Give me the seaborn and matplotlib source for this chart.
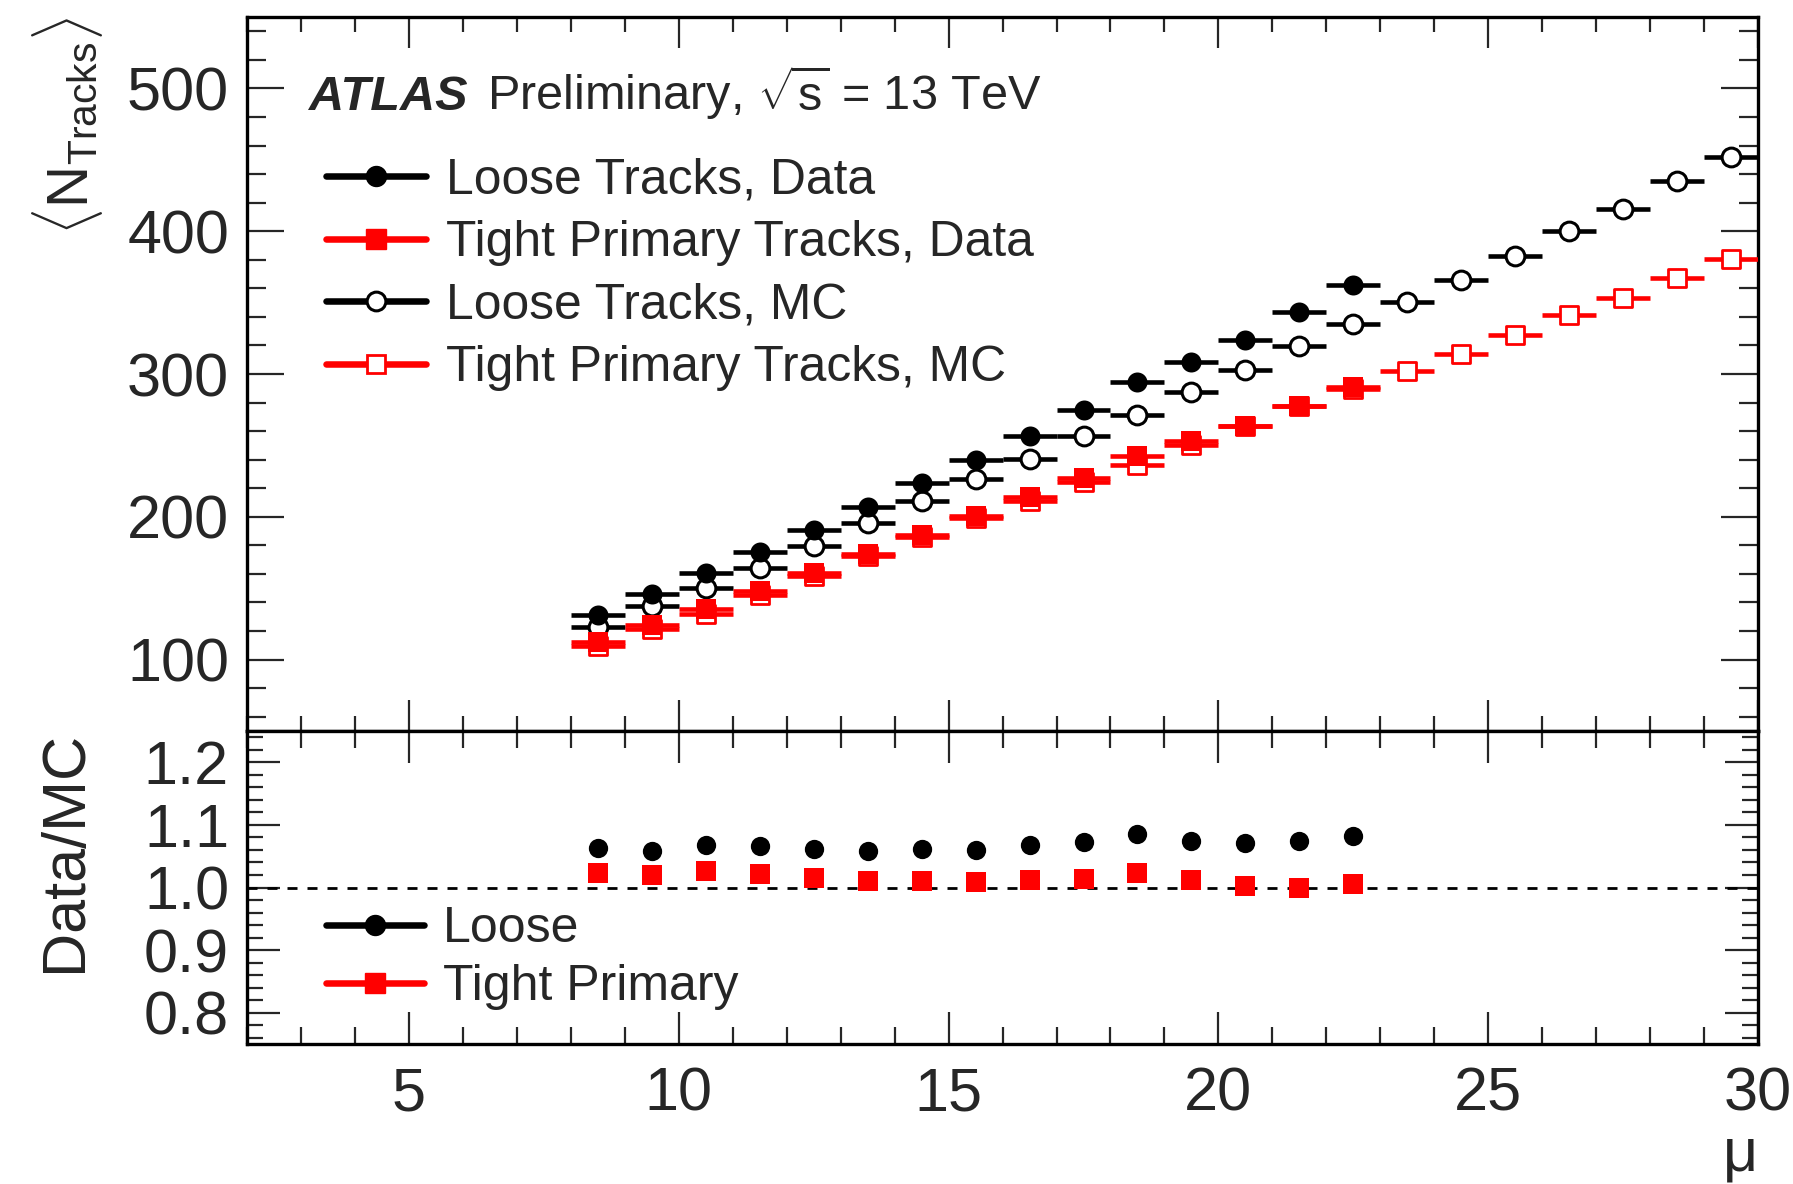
import matplotlib
matplotlib.use("Agg")
import matplotlib.pyplot as plt
from matplotlib.lines import Line2D
from matplotlib.ticker import MultipleLocator, FormatStrFormatter
import seaborn as sns

# Bin centres in average pile-up <mu>
mu_data = [8.5, 9.5, 10.5, 11.5, 12.5, 13.5, 14.5, 15.5, 16.5, 17.5, 18.5,
           19.5, 20.5, 21.5, 22.5]
mu_mc = [8.5, 9.5, 10.5, 11.5, 12.5, 13.5, 14.5, 15.5, 16.5, 17.5, 18.5,
         19.5, 20.5, 21.5, 22.5, 23.5, 24.5, 25.5, 26.5, 27.5, 28.5, 29.5]
bin_half_width = 0.5

# Mean number of tracks
loose_data = [130.9, 145.6, 160.6, 175.3, 191.1, 207.2, 223.8, 240.1, 256.9,
              274.9, 294.3, 308.7, 324.1, 343.3, 362.5]
tight_data = [112.3, 123.9, 135.6, 148.0, 160.8, 174.3, 187.6, 200.9, 213.8,
              227.1, 242.9, 253.4, 263.9, 277.5, 290.8]
loose_mc = [122.8, 137.3, 150.2, 164.5, 179.9, 195.7, 210.8, 226.3, 240.6,
            256.3, 271.2, 287.3, 302.6, 319.6, 335.2, 350.7, 365.6, 382.4,
            399.9, 415.5, 434.9, 451.7]
tight_mc = [109.7, 121.5, 132.0, 145.0, 158.4, 172.6, 185.8, 199.2, 211.2,
            224.1, 236.5, 250.5, 263.5, 277.7, 289.3, 302.4, 314.1, 327.1,
            341.2, 353.0, 367.3, 380.3]

# Data/MC ratios
ratio_loose = [1.063, 1.059, 1.068, 1.066, 1.062, 1.058, 1.062, 1.060, 1.068,
               1.072, 1.086, 1.075, 1.071, 1.074, 1.082]
ratio_tight = [1.024, 1.020, 1.027, 1.021, 1.015, 1.010, 1.010, 1.009, 1.012,
               1.013, 1.023, 1.012, 1.002, 0.999, 1.005]

x_ticklabels = ["5", "10", "15", "20", "25", "30"]

sns.set_theme(style="ticks")
plt.rcParams["font.family"] = ["Liberation Sans", "DejaVu Sans"]
plt.rcParams["mathtext.fontset"] = "custom"
plt.rcParams["mathtext.rm"] = "Liberation Sans"
plt.rcParams["mathtext.it"] = "Liberation Sans:italic"
plt.rcParams["mathtext.bf"] = "Liberation Sans:bold"

RED = "#ff0000"
BLACK = "#000000"

fig = plt.figure(figsize=(17.93, 11.84), dpi=100)
ax = fig.add_axes([0.1378, 0.3826, 0.8427, 0.6030])
ax2 = fig.add_axes([0.1378, 0.1182, 0.8427, 0.2644])

# ---- upper panel: mean number of tracks ----
bar_lw = 3.3
ax.errorbar(mu_mc, loose_mc, xerr=bin_half_width, fmt="none", ecolor=BLACK,
            elinewidth=bar_lw, capsize=0, zorder=3)
sns.scatterplot(x=mu_mc, y=loose_mc, ax=ax, marker="o", s=13.5 ** 2,
                color="white", edgecolor=BLACK, linewidth=2.2, zorder=4,
                legend=False)
ax.errorbar(mu_mc, tight_mc, xerr=bin_half_width, fmt="none", ecolor=RED,
            elinewidth=bar_lw, capsize=0, zorder=5)
sns.scatterplot(x=mu_mc, y=tight_mc, ax=ax, marker="s", s=13.0 ** 2,
                color="white", edgecolor=RED, linewidth=2.0, zorder=6,
                legend=False)
ax.errorbar(mu_data, loose_data, xerr=bin_half_width, fmt="none",
            ecolor=BLACK, elinewidth=bar_lw, capsize=0, zorder=7)
sns.scatterplot(x=mu_data, y=loose_data, ax=ax, marker="o", s=14.4 ** 2,
                color=BLACK, linewidth=0, zorder=8, legend=False)
ax.errorbar(mu_data, tight_data, xerr=bin_half_width, fmt="none",
            ecolor=RED, elinewidth=bar_lw, capsize=0, zorder=9)
sns.scatterplot(x=mu_data, y=tight_data, ax=ax, marker="s", s=14.4 ** 2,
                color=RED, linewidth=0, zorder=10, legend=False)

ax.set_xlim(2, 30)
ax.set_ylim(50, 550)
ax.xaxis.set_major_locator(MultipleLocator(5))
ax.xaxis.set_minor_locator(MultipleLocator(1))
ax.yaxis.set_major_locator(MultipleLocator(100))
ax.yaxis.set_minor_locator(MultipleLocator(20))
ax.tick_params(which="both", direction="in", top=True, right=True,
               width=1.6, labelsize=44, labelbottom=False, pad=13)
ax.tick_params(axis="x", which="major", length=22)
ax.tick_params(axis="x", which="minor", length=11)
ax.tick_params(axis="y", which="major", length=26.5)
ax.tick_params(axis="y", which="minor", length=13.5)
ax.set_xlabel("")
ax.set_ylabel(r"$\langle\mathrm{N}_{\mathrm{Tracks}}\rangle$", fontsize=42,
              loc="top")
ax.yaxis.set_label_coords(-0.094, 1.0)

ax.text(0.041, 0.8697, "ATLAS", transform=ax.transAxes, fontsize=35,
        fontweight="bold", fontstyle="italic", va="baseline", ha="left")
ax.text(0.1588, 0.8697, r"Preliminary, $\sqrt{\mathrm{s}}$ = 13 TeV",
        transform=ax.transAxes, fontsize=35, va="baseline", ha="left")

leg_lw = 4.7
upper_handles = [
    Line2D([], [], color=BLACK, lw=leg_lw, marker="o", ms=14.4,
           mfc=BLACK, mec=BLACK),
    Line2D([], [], color=RED, lw=leg_lw, marker="s", ms=14.4,
           mfc=RED, mec=RED),
    Line2D([], [], color=BLACK, lw=leg_lw, marker="o", ms=13.5,
           mfc="white", mec=BLACK, mew=2.2),
    Line2D([], [], color=RED, lw=leg_lw, marker="s", ms=13.0,
           mfc="white", mec=RED, mew=2.0),
]
upper_labels = ["Loose Tracks, Data", "Tight Primary Tracks, Data",
                "Loose Tracks, MC", "Tight Primary Tracks, MC"]
ax.legend(upper_handles, upper_labels, loc="upper left",
          bbox_to_anchor=(0.0523, 0.803), frameon=False, fontsize=35.8,
          handlelength=2.0, handletextpad=0.42, labelspacing=0.33,
          borderpad=0, borderaxespad=0)

# ---- lower panel: Data/MC ----
ax2.axhline(1.0, color=BLACK, lw=2.0, ls=(0, (3.6, 3.6)), zorder=2)
sns.scatterplot(x=mu_data, y=ratio_loose, ax=ax2, marker="o", s=13.9 ** 2,
                color=BLACK, linewidth=0, zorder=4, legend=False)
sns.scatterplot(x=mu_data, y=ratio_tight, ax=ax2, marker="s", s=13.9 ** 2,
                color=RED, linewidth=0, zorder=5, legend=False)

ax2.set_xlim(2, 30)
ax2.set_ylim(0.75, 1.25)
ax2.set_xticks([5, 10, 15, 20, 25, 30])
ax2.set_xticklabels(x_ticklabels)
ax2.xaxis.set_minor_locator(MultipleLocator(1))
ax2.yaxis.set_major_locator(MultipleLocator(0.1))
ax2.yaxis.set_minor_locator(MultipleLocator(0.02))
ax2.yaxis.set_major_formatter(FormatStrFormatter("%.1f"))
ax2.tick_params(which="both", direction="in", top=True, right=True,
                width=1.6, labelsize=44)
ax2.tick_params(axis="x", which="both", pad=16)
ax2.tick_params(axis="y", which="both", pad=13)
ax2.tick_params(axis="x", which="major", length=23)
ax2.tick_params(axis="x", which="minor", length=12)
ax2.tick_params(axis="y", which="major", length=24)
ax2.tick_params(axis="y", which="minor", length=11.5)
ax2.set_ylabel("Data/MC", fontsize=44, loc="top")
ax2.yaxis.set_label_coords(-0.101, 1.0)
ax2.set_xlabel("μ", fontsize=44, loc="right")
ax2.xaxis.set_label_coords(1.0, -0.262)
ax2.xaxis.label.set_verticalalignment("top")

lower_handles = [
    Line2D([], [], color=BLACK, lw=leg_lw, marker="o", ms=14.4,
           mfc=BLACK, mec=BLACK),
    Line2D([], [], color=RED, lw=leg_lw, marker="s", ms=14.4,
           mfc=RED, mec=RED),
]
ax2.legend(lower_handles, ["Loose", "Tight Primary"], loc="upper left",
           bbox_to_anchor=(0.0523, 0.44), frameon=False, fontsize=36,
           handlelength=1.95, handletextpad=0.38, labelspacing=0.24,
           borderpad=0, borderaxespad=0)

for a in (ax, ax2):
    for sp in a.spines.values():
        sp.set_linewidth(2.4)
        sp.set_color(BLACK)

fig.savefig("out.png", dpi=100)
